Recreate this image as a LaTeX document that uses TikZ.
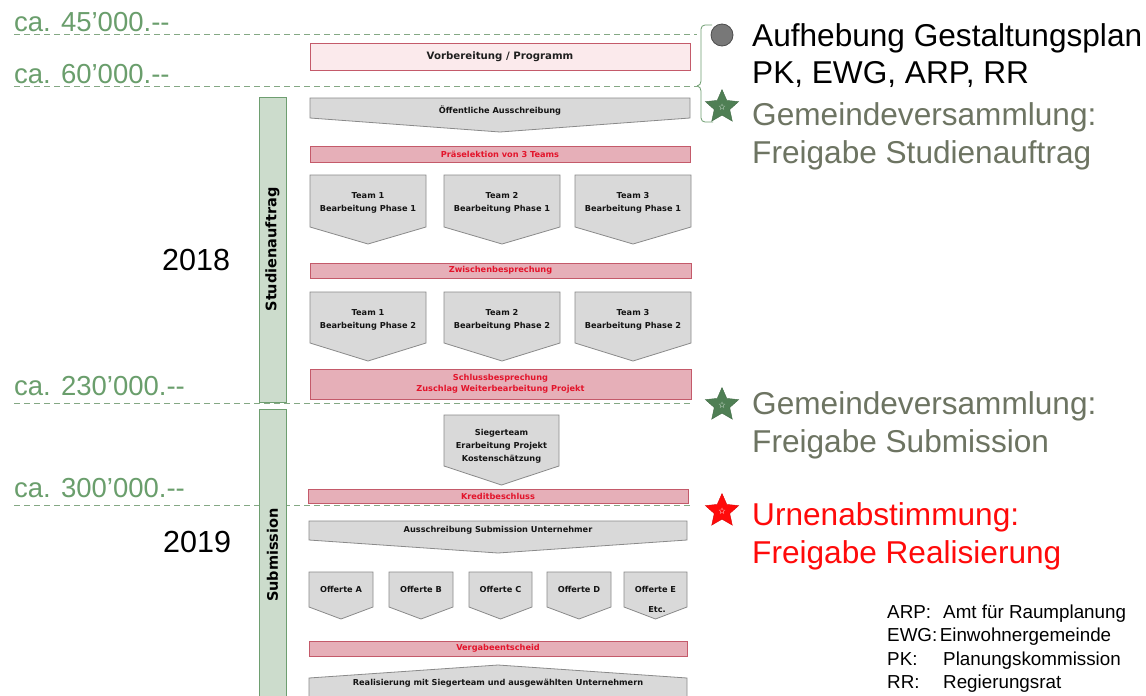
\documentclass[tikz,border=0pt]{standalone}
\usepackage{fontspec}
\setmainfont{Liberation Sans}
\newfontfamily\boxfont{DejaVu Sans}
\usetikzlibrary{shapes.geometric}
\definecolor{pinkfillL}{HTML}{FBEAEC}
\definecolor{pinkdraw}{HTML}{C45A6A}
\definecolor{pinkfill}{HTML}{E6AFB8}
\definecolor{redtxt}{HTML}{E3142B}
\definecolor{grayfill}{HTML}{D9D9D9}
\definecolor{graydraw}{HTML}{8A8A8A}
\definecolor{barfill}{HTML}{CCDCCC}
\definecolor{bardraw}{HTML}{6E9E70}
\definecolor{costgreen}{HTML}{6A9E6C}
\definecolor{dashgreen}{HTML}{84A884}
\definecolor{olivetxt}{HTML}{6D7462}
\definecolor{stargreen}{HTML}{4F7F54}
\definecolor{starred}{HTML}{FF0A0A}
\newcommand{\pent}[5]{\draw[grayshape] (#1,#3) -- (#2,#3) -- (#2,#4) -- ({(#1+#2)/2},#5) -- (#1,#4) -- cycle;}
\newcommand{\dd}{-{}-}
\tikzset{
  boxtxt/.style={font=\boxfont\bfseries\fontsize{8.2}{13}\selectfont, text=black!92, align=center, inner sep=0},
  rbox/.style={draw=pinkdraw, fill=pinkfill, line width=0.8pt, font=\boxfont\bfseries\fontsize{8.2}{11.5}\selectfont, text=redtxt, align=center, inner sep=0},
  grayshape/.style={draw=graydraw, fill=grayfill, line width=0.8pt},
  bar/.style={draw=bardraw, fill=barfill, line width=1pt},
  bartxt/.style={font=\boxfont\bfseries\fontsize{14.5}{16}\selectfont, rotate=90, inner sep=0},
  costlbl/.style={anchor=base west, text=costgreen, font=\fontsize{27.5}{32}\selectfont, inner sep=0},
  costline/.style={dashgreen, dash pattern=on 6pt off 4pt, line width=1pt},
  big/.style={anchor=base west, font=\fontsize{31.6}{36}\selectfont, inner sep=0},
  year/.style={anchor=base west, font=\fontsize{30.5}{34}\selectfont, inner sep=0},
  legend/.style={anchor=base west, font=\fontsize{18.8}{22}\selectfont, inner sep=0},
  mystar/.style={star, star points=5, star point ratio=2.15, minimum size=35pt, inner sep=0},
  innerstar/.style={star, star points=5, star point ratio=2.2, minimum size=6pt, inner sep=0, line width=0.4pt},
}
\begin{document}
\begin{tikzpicture}[x=1pt,y=-1pt]
\clip (0,0) rectangle (1146,696);
\fill[white] (0,0) rectangle (1146,696);

% cost lines
\coordinate (d1a) at (14,34);  \coordinate (d1b) at (697,34);
\coordinate (d2a) at (14,86);  \coordinate (d2b) at (697,86);
\coordinate (d3a) at (14,403); \coordinate (d3b) at (690,403);
\coordinate (d4a) at (14,505); \coordinate (d4b) at (690,505);
\draw[costline] (d1a) -- (d1b);
\draw[costline] (d2a) -- (d2b);
\draw[costline] (d3a) -- (d3b);
\draw[costline] (d4a) -- (d4b);
\node[costlbl] (c1) at (14,31) {ca. 45’000.\dd};
\node[costlbl] (c2) at (14,83) {ca. 60’000.\dd};
\node[costlbl] (c3) at (14,395) {ca. 230’000.\dd};
\node[costlbl] (c4) at (14,497) {ca. 300’000.\dd};

% years
\node[year] (y1) at (162,270) {2018};
\node[year] (y2) at (163,552) {2019};

% bars
\draw[bar] (259,97) rectangle (286,402);
\node[bartxt] (b1) at (272.5,249.5) {Studienauftrag};
\draw[bar] (259,409) rectangle (286,702);
\node[bartxt] (b2) at (272.5,555) {Submission};

% Vorbereitung
\node[draw=pinkdraw, fill=pinkfillL, line width=0.8pt, minimum width=380pt, minimum height=27pt, inner sep=0,
      font=\boxfont\bfseries\fontsize{10.2}{12}\selectfont, text=black!88] (vor) at (500,56.5) {Vorbereitung / Programm};

% Oeffentliche Ausschreibung
\pent{310}{690}{98}{118}{132}
\node[boxtxt] (oa) at (500,111) {Öffentliche Ausschreibung};

\node[rbox, minimum width=380pt, minimum height=16pt] (pre) at (500,154) {Präselektion von 3 Teams};

% Phase 1
\pent{310}{426}{175}{227}{244}
\pent{444}{560}{175}{227}{244}
\pent{575}{691}{175}{227}{244}
\node[boxtxt] (t11) at (368,203) {Team 1\\Bearbeitung Phase 1};
\node[boxtxt] (t21) at (502,203) {Team 2\\Bearbeitung Phase 1};
\node[boxtxt] (t31) at (633,203) {Team 3\\Bearbeitung Phase 1};

\node[rbox, minimum width=381pt, minimum height=15pt] (zw) at (500.5,270.5) {Zwischenbesprechung};

% Phase 2
\pent{310}{426}{292}{343}{361}
\pent{444}{560}{292}{343}{361}
\pent{575}{691}{292}{343}{361}
\node[boxtxt] (t12) at (368,320) {Team 1\\Bearbeitung Phase 2};
\node[boxtxt] (t22) at (502,320) {Team 2\\Bearbeitung Phase 2};
\node[boxtxt] (t32) at (633,320) {Team 3\\Bearbeitung Phase 2};

\node[rbox, minimum width=381pt, minimum height=30pt] (sb) at (500.5,384) {Schlussbesprechung\\Zuschlag Weiterbearbeitung Projekt};

% Siegerteam
\pent{444}{559}{415}{466}{485}
\node[boxtxt] (sg) at (501.5,446) {Siegerteam\\Erarbeitung Projekt\\Kostenschätzung};

\node[rbox, minimum width=380pt, minimum height=14pt] (kb) at (498,496) {Kreditbeschluss};

% Ausschreibung Submission
\pent{309}{687}{521}{540}{553}
\node[boxtxt] (as) at (498,530.5) {Ausschreibung Submission Unternehmer};

% Offerten
\pent{309}{373}{572}{607}{619}
\pent{389}{453}{572}{607}{619}
\pent{469}{532}{572}{607}{619}
\pent{547}{611}{572}{607}{619}
\pent{624}{687}{572}{607}{619}
\node[boxtxt] (oA) at (341,589) {Offerte A};
\node[boxtxt] (oB) at (421,589) {Offerte B};
\node[boxtxt] (oC) at (500.5,589) {Offerte C};
\node[boxtxt] (oD) at (579,589) {Offerte D};
\node[boxtxt] (oE) at (655.5,589) {Offerte E};
\node[boxtxt] (etc) at (657,610) {Etc.};

\node[rbox, minimum width=378pt, minimum height=15pt] (ve) at (498,648.5) {Vergabeentscheid};

% Realisierung
\draw[grayshape] (309,678) -- (498,665) -- (687,678) -- (687,702) -- (309,702) -- cycle;
\node[boxtxt] (re) at (498,683.5) {Realisierung mit Siegerteam und ausgewählten Unternehmern};

% brace
\coordinate (brT) at (712,25);
\coordinate (brM) at (697,86);
\coordinate (brB) at (713,122);
\draw[bardraw, line width=0.8pt] (brT) -- (705,25) to[out=180,in=90] (701,29) -- (701,81)
  to[out=-90,in=0] (brM);
\draw[bardraw, line width=0.8pt] (brM) to[out=0,in=90] (701,91) -- (701,118)
  to[out=-90,in=180] (705,122) -- (brB);

% markers
\node[circle, minimum size=22pt, inner sep=0, fill=black!53, draw=black!70, line width=0.8pt] (m1) at (722,35) {};
\node[mystar, fill=stargreen, draw=stargreen!85!black] (m2) at (722,107) {};
\node[innerstar, draw=stargreen!55!white] at (m2) {};
\node[mystar, fill=stargreen, draw=stargreen!85!black] (m3) at (722,405) {};
\node[innerstar, draw=stargreen!55!white] at (m3) {};
\node[mystar, fill=starred, draw=starred!85!black] (m4) at (722,511) {};
\node[innerstar, draw=starred!45!white] at (m4) {};

% right texts
\node[big] (r1) at (752,46) {Aufhebung Gestaltungsplan};
\node[big] (r2) at (752,83) {PK, EWG, ARP, RR};
\node[big, text=olivetxt] (r3) at (752,125) {Gemeindeversammlung:};
\node[big, text=olivetxt] (r4) at (752,163) {Freigabe Studienauftrag};
\node[big, text=olivetxt] (r5) at (752,414) {Gemeindeversammlung:};
\node[big, text=olivetxt] (r6) at (752,452) {Freigabe Submission};
\node[big, text=starred] (r7) at (752,525) {Urnenabstimmung:};
\node[big, text=starred] (r8) at (752,563) {Freigabe Realisierung};

% legend
\node[legend] (l1) at (887,618) {ARP:};
\node[legend] (l1b) at (943,618) {Amt für Raumplanung};
\node[legend] (l2) at (887,641) {EWG:\hspace{2.5pt}Einwohnergemeinde};
\node[legend] (l3) at (887,665) {PK:};
\node[legend] (l3b) at (943,665) {Planungskommission};
\node[legend] (l4) at (887,688) {RR:};
\node[legend] (l4b) at (943,688) {Regierungsrat};
\end{tikzpicture}
\end{document}
